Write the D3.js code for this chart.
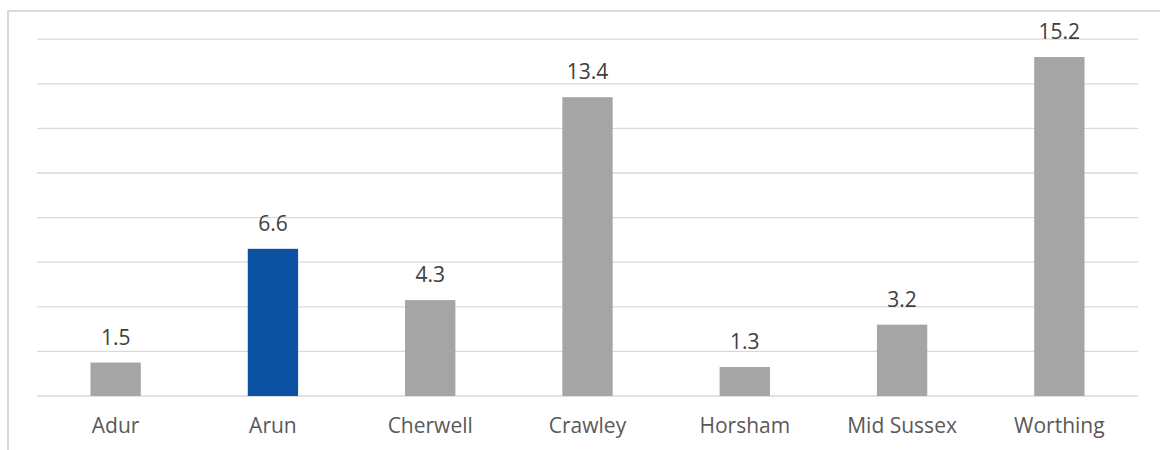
<!DOCTYPE html>
<html><head><meta charset="utf-8">
<script src="https://cdn.jsdelivr.net/npm/d3@7"></script>
<style>html,body{margin:0;padding:0;background:#fff;overflow:hidden}</style>
</head><body>
<svg id="c" width="1160" height="450"></svg>
<script>
const categories = ["Adur","Arun","Cherwell","Crawley","Horsham","Mid Sussex","Worthing"];
const values = [1.5, 6.6, 4.3, 13.4, 1.3, 3.2, 15.2];
const highlight = ["Arun"];
const yTicks = [0,2,4,6,8,10,12,14,16];

const svg = d3.select("#c");
const font = "'Open Sans', sans-serif";
// frame
svg.append("rect").attr("x",8).attr("y",11).attr("width",1200).attr("height",500)
  .attr("fill","none").attr("stroke","#d9d9d9").attr("stroke-width",2);

const x = d3.scaleBand().domain(categories).range([37,1138]).paddingInner(0.68).paddingOuter(0.34);
const y = d3.scaleLinear().domain([0,16]).range([396,39.2]);

svg.append("g").selectAll("line").data(yTicks).join("line")
  .attr("x1",37).attr("x2",1138)
  .attr("y1",d=>y(d)).attr("y2",d=>y(d))
  .attr("stroke","#d9d9d9").attr("stroke-width",1.3);

svg.append("g").selectAll("rect").data(values).join("rect")
  .attr("x",(d,i)=>x(categories[i]))
  .attr("width",x.bandwidth())
  .attr("y",d=>y(d))
  .attr("height",d=>y(0)-y(d))
  .attr("fill",(d,i)=>highlight.includes(categories[i])?"#0b53a2":"#a5a5a5");

svg.append("g").selectAll("text").data(values).join("text")
  .attr("x",(d,i)=>x(categories[i])+x.bandwidth()/2)
  .attr("y",d=>y(d)-18)
  .attr("text-anchor","middle")
  .attr("font-family",font).attr("font-size",21).attr("fill","#404040")
  .text(d=>d.toFixed(1));

const xAxis = d3.axisBottom(x).tickSize(0).tickPadding(0);
const g = svg.append("g").attr("transform","translate(0,396)").call(xAxis);
g.select(".domain").remove();
g.selectAll("text").attr("font-family",font).attr("font-size",21).attr("fill","#595959")
  .attr("dy",null).attr("y",37);
</script>
</body></html>
